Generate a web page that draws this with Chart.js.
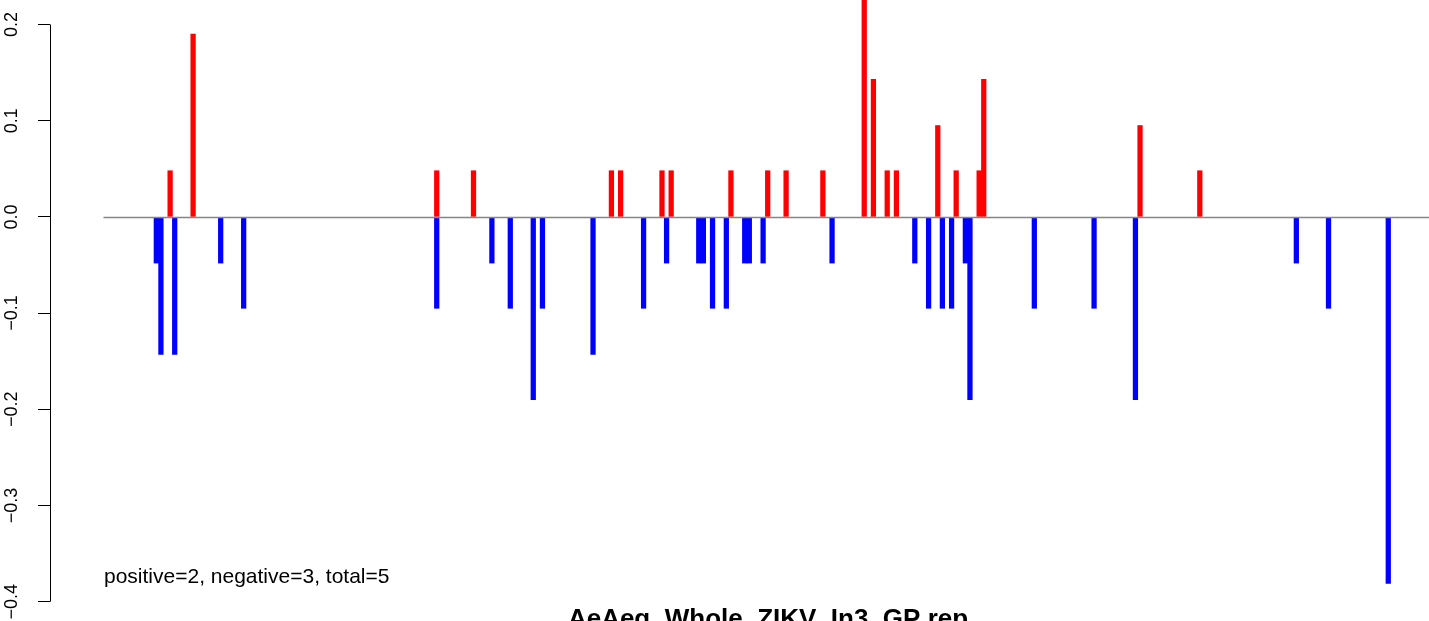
<!DOCTYPE html>
<html>
<head>
<meta charset="utf-8">
<script src="https://cdn.jsdelivr.net/npm/chart.js@4"></script>
<style>
html, body { margin: 0; padding: 0; background: #ffffff; }
.chart-container { width: 1429px; height: 621px; position: relative; }
</style>
</head>
<body>
<div class="chart-container"><canvas id="chart-1"></canvas></div>
<script>

// site index along the region, and score at that site
var posSites = [14, 19, 72, 80, 110, 112, 121, 123, 136, 144, 148, 156, 165, 167, 170, 172, 181, 185, 190, 191, 225, 238];
var posValues = [0.048, 0.190, 0.048, 0.048, 0.048, 0.048, 0.048, 0.048, 0.048, 0.048, 0.048, 0.048, 0.238, 0.143, 0.048, 0.048, 0.095, 0.048, 0.048, 0.143, 0.095, 0.048];

var negSites = [11, 12, 15, 25, 30, 72, 84, 88, 93, 95, 106, 117, 122, 129, 130, 132, 135, 139, 140, 143, 158, 176, 179, 182, 184, 187, 188, 202, 215, 224, 259, 266, 279];
var negValues = [-0.048, -0.143, -0.143, -0.048, -0.095, -0.095, -0.048, -0.095, -0.190, -0.095, -0.143, -0.095, -0.048, -0.048, -0.048, -0.095, -0.095, -0.048, -0.048, -0.048, -0.048, -0.048, -0.095, -0.095, -0.095, -0.048, -0.190, -0.095, -0.095, -0.190, -0.048, -0.095, -0.381];

var yTicks = [-0.4, -0.3, -0.2, -0.1, 0.0, 0.1, 0.2];

var summaryText = "positive=2, negative=3, total=5";
var mainTitle = "AeAeg_Whole_ZIKV_In3_GP rep";

var fontName = "'Liberation Sans', Arial, Helvetica, sans-serif";

function toPoints(sites, values) {
	var pts = [];
	for (var i = 0; i < sites.length; i++) {
		pts.push({x: sites[i], y: values[i]});
	}
	return pts;
}

// axis line, zero line and the two texts, like R draws them
var rExtras = {
	id: 'rExtras',
	afterDatasetsDraw: function(chart) {
		var ctx = chart.ctx;
		var xs = chart.scales.x;
		var ys = chart.scales.y;
		var y0 = Math.round(ys.getPixelForValue(0)) + 0.5;
		ctx.save();
		ctx.strokeStyle = '#858585';
		ctx.lineWidth = 1.3;
		ctx.beginPath();
		ctx.moveTo(xs.getPixelForValue(-0.5), y0);
		ctx.lineTo(chart.chartArea.right, y0);
		ctx.stroke();
		ctx.restore();
	},
	afterDraw: function(chart) {
		var ctx = chart.ctx;
		var ys = chart.scales.y;
		var ax = Math.round(chart.chartArea.left) + 0.5;
		ctx.save();
		ctx.strokeStyle = '#000000';
		ctx.lineWidth = 1;
		ctx.beginPath();
		ctx.moveTo(ax, ys.getPixelForValue(yTicks[0]));
		ctx.lineTo(ax, ys.getPixelForValue(yTicks[yTicks.length - 1]));
		ctx.stroke();

		ctx.fillStyle = '#000000';
		ctx.textBaseline = 'alphabetic';
		ctx.textAlign = 'left';
		ctx.font = "21px " + fontName;
		ctx.fillText(summaryText, 104, 583);

		ctx.textAlign = 'center';
		ctx.font = "bold 26px " + fontName;
		ctx.fillText(mainTitle, 768, 627);
		ctx.restore();
	}
};

function makeScoreGraph() {
	var data1 = {
		datasets: [{
			label: "positive",
			data: toPoints(posSites, posValues),
			backgroundColor: "#FF0000",
			borderWidth: 0,
			barThickness: 4.6,
			grouped: false
		}, {
			label: "negative",
			data: toPoints(negSites, negValues),
			backgroundColor: "#0000FF",
			borderWidth: 0,
			barThickness: 4.6,
			grouped: false
		}]
	};

	var options1 = {
		animation: false,
		responsive: true,
		maintainAspectRatio: false,
		layout: { padding: 0 },
		plugins: {
			legend: { display: false },
			tooltip: { enabled: false }
		},
		scales: {
			x: {
				type: 'linear',
				display: false,
				offset: false,
				min: -12.13,
				max: 287.86
			},
			y: {
				type: 'linear',
				position: 'left',
				min: -0.4201,
				max: 0.2255,
				border: { display: false },
				grid: {
					drawOnChartArea: false,
					drawTicks: true,
					tickLength: 12,
					tickColor: '#000000',
					tickWidth: 1
				},
				afterBuildTicks: function(scale) {
					scale.ticks = yTicks.map(function(v) { return {value: v}; });
				},
				afterFit: function(scale) {
					scale.width = 50;
					scale.paddingTop = 0;
					scale.paddingBottom = 0;
				},
				ticks: {
					minRotation: 90,
					maxRotation: 90,
					crossAlign: 'center',
					padding: 8,
					color: '#000000',
					font: { family: fontName, size: 18 },
					callback: function(value) {
						return value.toFixed(1).replace('-', '\u2212');
					}
				}
			}
		}
	};

	var graph = new Chart('chart-1', {
		type: 'bar',
		data: data1,
		options: options1,
		plugins: [rExtras]
	});
}

makeScoreGraph();
</script>
</body>
</html>
